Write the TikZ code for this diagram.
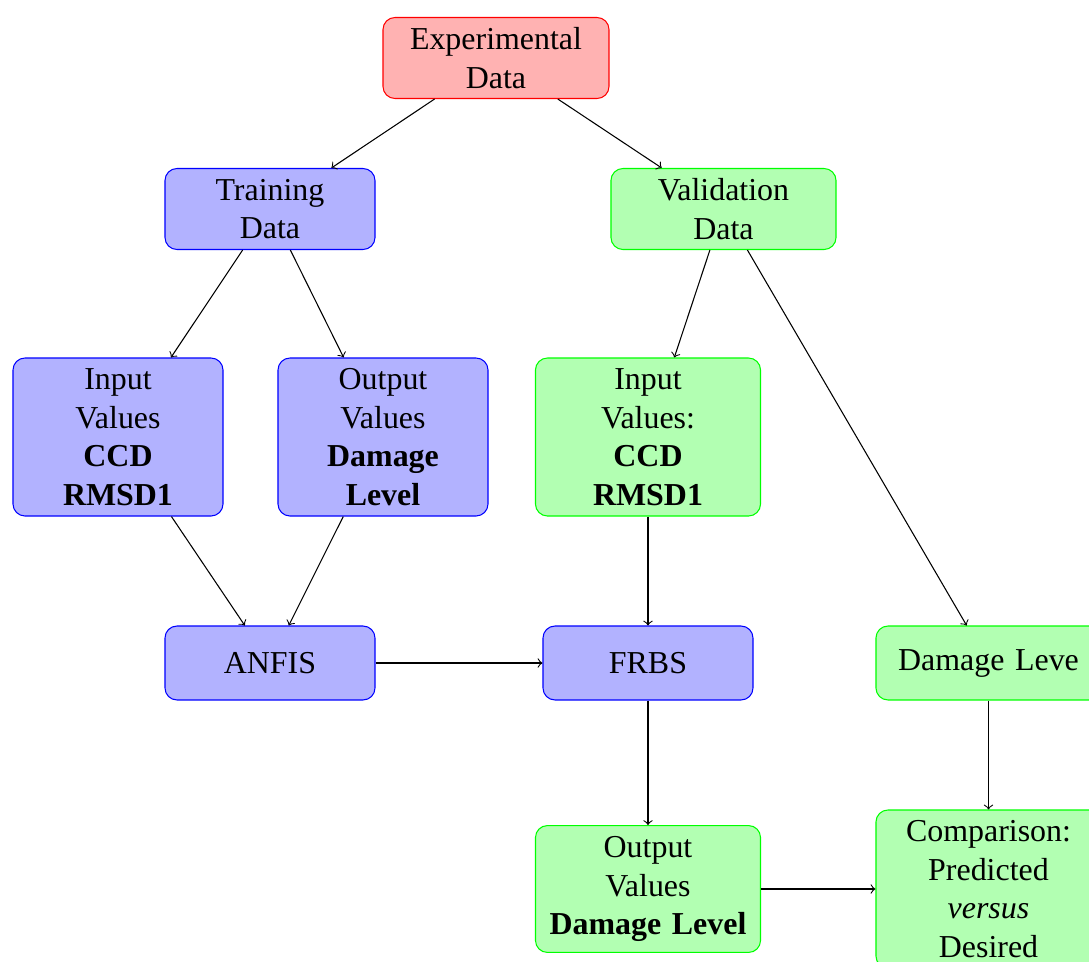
\documentclass[tikz,border=0pt]{standalone}
\usepackage{fontspec}
\setmainfont{Liberation Serif}
\begin{document}
\fontsize{12}{14.5}\selectfont
\begin{tikzpicture}[x=0.37594pt, y=-0.37594pt,
  box/.style={rectangle, rounded corners=4.5pt, inner sep=1pt, align=center,
              font=\fontsize{12}{14.5}\selectfont},
  redbox/.style={box, draw=red, fill=red!30, minimum width=84.96pt, text width=82.96pt},
  bluebox/.style={box, draw=blue, fill=blue!30, minimum width=78.95pt, text width=76.95pt},
  greenbox/.style={box, draw=green, fill=green!30, minimum width=84.6pt, text width=82.6pt},
  two/.style={minimum height=30.45pt},
  four/.style={minimum height=59.4pt},
  one/.style={minimum height=27.8pt},
  three/.style={minimum height=47.7pt},
  link/.style={->}]
\useasboundingbox (0,0) rectangle (1089,962);
\clip (0,0) rectangle (1089,962);

% data sources
\node[redbox, two]   (exp)   at (496,58)  {Experimental\\ Data};
\node[bluebox, two]  (train) at (270,209) {Training\\ Data};
\node[greenbox, two] (valid) at (723.5,209) {Validation\\ Data};

% input / output sets
\node[bluebox, four]  (tin)  at (118,437)   {Input\\ Values\\ \textbf{CCD}\\ \textbf{RMSD1}};
\node[bluebox, four]  (tout) at (383,437)   {Output\\ Values\\ \textbf{Damage}\\ \textbf{Level}};
\node[greenbox, four] (vin)  at (648,437) {Input\\ Values:\\ \textbf{CCD}\\ \textbf{RMSD1}};

% models
\node[bluebox, one]  (anfis) at (270,663)   {ANFIS};
\node[bluebox, one, minimum width=78.6pt] (frbs) at (648,663) {FRBS};
\node[greenbox, one] (dlev)  at (988.5,663) {Damage Leve};

% results
\node[greenbox, three] (vout) at (648,889) {Output\\ Values\\ \textbf{Damage Level}};
\node[greenbox, four]  (comp) at (988.5,889) {Comparison:\\ Predicted\\ \textit{versus}\\ Desired};

% connectors
\draw[link] (exp) -- (train);
\draw[link] (exp) -- (valid);
\draw[link] (train) -- (tin);
\draw[link] (train) -- (tout);
\draw[link] (valid) -- (vin);
\draw[link] (valid) -- (dlev);
\draw[link] (tin) -- (anfis);
\draw[link] (tout) -- (anfis);
\draw[link] (vin) -- (frbs);
\draw[link] (anfis) -- (frbs);
\draw[link] (frbs) -- (vout);
\draw[link] (dlev) -- (comp);
\draw[link] (vout) -- (comp);
\end{tikzpicture}
\end{document}
